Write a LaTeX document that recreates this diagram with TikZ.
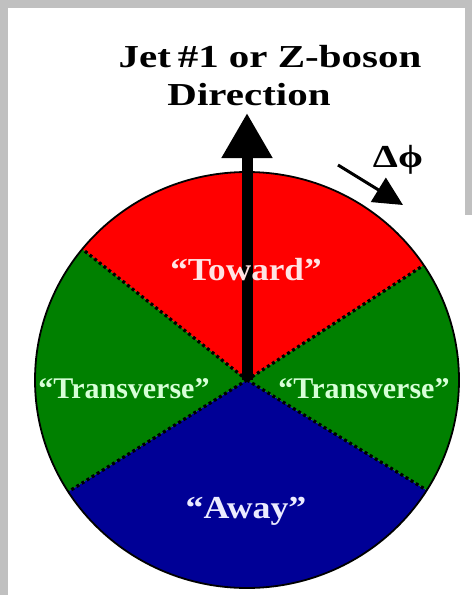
\documentclass[tikz,border=0pt]{standalone}
\usepackage{fontspec}
\setmainfont{Liberation Serif}
\usetikzlibrary{arrows.meta,calc}
\definecolor{framegray}{RGB}{192,192,192}
\definecolor{towardred}{RGB}{255,0,0}
\definecolor{transgreen}{RGB}{0,128,0}
\definecolor{awayblue}{RGB}{0,0,150}
\definecolor{towardtext}{RGB}{255,228,228}
\definecolor{transtext}{RGB}{215,255,215}
\definecolor{awaytext}{RGB}{235,235,255}
\begin{document}
\begin{tikzpicture}[x=1pt,y=1pt,
  lbl/.style={font=\bfseries\fontsize{32}{36}\selectfont, inner sep=0pt, anchor=base},
  seclbl/.style={font=\bfseries\fontsize{30}{34}\selectfont, inner sep=0pt, anchor=base},
  bigseclbl/.style={font=\bfseries\fontsize{32}{36}\selectfont, inner sep=0pt, anchor=base},
  divider/.style={line width=3.2pt, dash pattern=on 3pt off 3pt, black},
  rim/.style={line width=1.8pt, black},
  bigarrow/.style={line width=11pt, -{Triangle[length=45pt,width=48pt]}},
  smallarrow/.style={line width=3pt, -{Triangle[length=29pt,width=28pt]}}]
\useasboundingbox (0,0) rectangle (472,-595);
\fill[white] (0,0) rectangle (472,-595);
\fill[framegray] (0,0) rectangle (472,-7.5);
\fill[framegray] (0,0) rectangle (7.5,-595);
\fill[framegray] (464.5,0) rectangle (472,-215);

\coordinate (C) at (247,-380);
\path (C) ++(33.5:212pt and 208pt) coordinate (B1);
\path (C) ++(141:212pt and 208pt) coordinate (B2);
\path (C) ++(212.5:212pt and 208pt) coordinate (B3);
\path (C) ++(-32:212pt and 208pt) coordinate (B4);

\fill[towardred] (C) -- (B1) arc[start angle=33.5, end angle=141, x radius=212pt, y radius=208pt] -- cycle;
\fill[transgreen] (C) -- (B2) arc[start angle=141, end angle=212.5, x radius=212pt, y radius=208pt] -- cycle;
\fill[awayblue] (C) -- (B3) arc[start angle=212.5, end angle=328, x radius=212pt, y radius=208pt] -- cycle;
\fill[transgreen] (C) -- (B4) arc[start angle=-32, end angle=33.5, x radius=212pt, y radius=208pt] -- cycle;
\draw[rim] (C) ellipse [x radius=212pt, y radius=208pt];
\draw[divider] (C) -- (B1);
\draw[divider] (C) -- (B2);
\draw[divider] (C) -- (B3);
\draw[divider] (C) -- (B4);

\coordinate (T) at (247,-113);
\draw[bigarrow] (C) -- (T);

\coordinate (D0) at (338,-165);
\coordinate (D1) at (403,-205);
\draw[smallarrow] (D0) -- (D1);

\node[lbl] (title1) at (270,-67) {\scalebox{1.28}[1]{Jet\,\#1 or Z-boson}};
\node[lbl] (title2) at (249,-105) {\scalebox{1.28}[1]{Direction}};
\node[lbl] (dphi) at (398,-167) {\scalebox{1.25}[1]{Δϕ}};

\node[bigseclbl, text=towardtext] (toward) at (246,-280) {\scalebox{1.1}[1]{“Toward”}};
\node[seclbl, text=transtext] (transL) at (124,-398) {“Transverse”};
\node[seclbl, text=transtext] (transR) at (364,-398) {“Transverse”};
\node[bigseclbl, text=awaytext] (away) at (246,-518) {\scalebox{1.12}[1]{“Away”}};
\end{tikzpicture}
\end{document}
